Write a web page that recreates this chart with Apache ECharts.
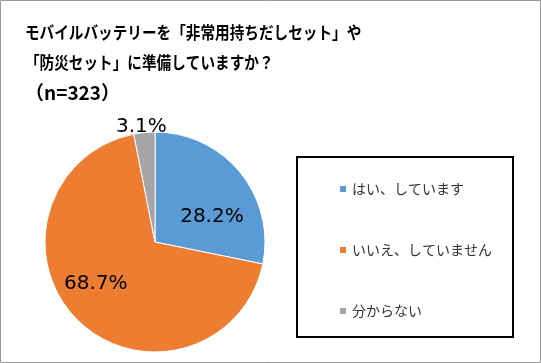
<!DOCTYPE html>
<html><head><meta charset="utf-8">
<script src="https://cdn.jsdelivr.net/npm/echarts@6/dist/echarts.min.js"></script>
<style>html,body{margin:0;padding:0;background:#fff}#c{width:541px;height:363px}</style>
</head><body><div id="c"></div>
<script>
const categories = ['はい、しています', 'いいえ、していません', '分からない'];
const values = [28.2, 68.7, 3.1];
const colors = ['#5B9BD5', '#ED7D31', '#A5A5A5'];
const titleLines = ['モバイルバッテリーを「非常用持ちだしセット」や', '「防災セット」に準備していますか？', '（n=323）'];
const labelOffsets = [[12, 11], [-18, 1], [-8, -57]];

function titleText(t, y, sx, size) {
  return {type: 'text', x: 25, y: y, scaleX: sx, originX: 0,
    style: {text: t, x: 0, y: 0, font: 'bold ' + size + 'px "Noto Sans CJK JP"', fill: '#000', verticalAlign: 'middle', align: 'left'}};
}

const chart = echarts.init(document.getElementById('c'), null, {renderer: 'canvas'});
chart.setOption({
  animation: false,
  backgroundColor: '#fff',
  color: colors,
  graphic: [
    {type: 'rect', shape: {x: 0.5, y: 0.5, width: 540, height: 362}, style: {fill: 'none', stroke: '#999', lineWidth: 1}, z: -1},
    {type: 'rect', shape: {x: 297, y: 157, width: 216, height: 180}, style: {fill: '#fff', stroke: '#000', lineWidth: 2}, z: -1},
    titleText(titleLines[0], 33, 0.86, 17),
    titleText(titleLines[1], 63, 0.86, 17),
    titleText(titleLines[2], 93, 1, 19)
  ],
  legend: {
    orient: 'vertical',
    left: 333,
    top: 175,
    icon: 'rect',
    itemWidth: 8,
    itemHeight: 8,
    itemGap: 43,
    data: categories,
    textStyle: {fontFamily: 'Noto Sans CJK JP', fontSize: 14, color: '#333', lineHeight: 18}
  },
  series: [{
    type: 'pie',
    center: [155, 242],
    radius: 110,
    startAngle: 90,
    clockwise: true,
    itemStyle: {borderColor: '#fff', borderWidth: 1},
    labelLine: {show: false},
    label: {
      position: 'inside',
      formatter: p => p.value.toFixed(1) + '%',
      fontFamily: 'DejaVu Sans',
      fontSize: 20,
      color: '#000'
    },
    data: categories.map((n, i) => ({name: n, value: values[i], label: {offset: labelOffsets[i]}}))
  }]
});
</script></body></html>
